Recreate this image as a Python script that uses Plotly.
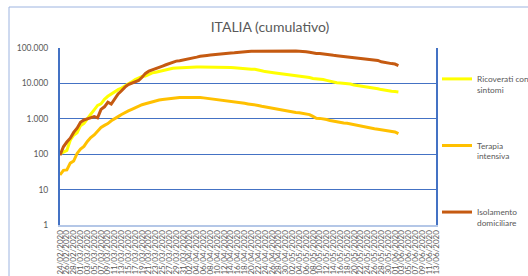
import plotly.graph_objects as go
import datetime as dt

# ---- data ----
start = dt.date(2020, 2, 24)
dates = [(start + dt.timedelta(days=i)).strftime("%d/%m/%Y") for i in range(111)]

ricoverati = [101, 114, 128, 248, 345, 401, 639, 742, 1034, 1346, 1790, 2394, 2651, 3557, 4316, 5038,
              5838, 6650, 7426, 8372, 9663, 11025, 12894, 14363, 15757, 16020, 17708, 19846, 20692, 21937,
              23112, 24753, 26029, 26676, 27386, 27795, 28192, 28403, 28540, 28741, 29010, 28949, 28976,
              28718, 28485, 28399, 28242, 28144, 27847, 28023, 28011, 27643, 26893, 26914, 26384, 25786,
              25033, 24906, 24134, 22871, 21533, 21372, 20353, 19723, 19210, 18149, 17569, 17357, 17242,
              16823, 16270, 15769, 15174, 14636, 13834, 13618, 13539, 12865, 12184, 11453, 10792, 10400,
              10311, 10207, 9991, 9624, 8957, 8695, 8613, 8185, 7917, 7729, 7379, 7094, 6680, 6387, 6099,
              6021, 5916, 5742]
terapia = [26, 35, 36, 56, 64, 105, 140, 166, 229, 295, 351, 462, 567, 650, 733, 877, 1028, 1153, 1328,
           1518, 1672, 1851, 2060, 2257, 2498, 2655, 2857, 3009, 3204, 3396, 3489, 3612, 3732, 3856, 3906,
           3981, 4023, 4035, 4053, 4068, 3994, 3977, 3898, 3792, 3693, 3605, 3497, 3381, 3343, 3260, 3186,
           3079, 2936, 2812, 2733, 2635, 2573, 2471, 2384, 2267, 2173, 2102, 2009, 1956, 1863, 1795, 1694,
           1578, 1539, 1501, 1479, 1427, 1333, 1311, 1168, 1034, 1027, 999, 952, 893, 855, 808, 775, 762,
           749, 716, 676, 640, 595, 572, 553, 541, 521, 505, 489, 475, 450, 435, 424, 380]
isolamento = [94, 162, 221, 284, 412, 543, 798, 927, 1000, 1065, 1155, 1060, 1843, 2180, 2936, 2599,
              3724, 5036, 6201, 7860, 9268, 10197, 11108, 12090, 14935, 19185, 22116, 23783, 26522, 28697,
              30920, 33648, 36653, 39533, 42588, 43752, 45420, 48134, 50456, 52579, 55270, 58320, 58705,
              61557, 63084, 64873, 66534, 68744, 69897, 71063, 72333, 73094, 75528, 76778, 78364, 79502,
              80589, 80758, 81104, 82722, 83652, 82212, 83504, 83619, 82722, 81708, 82286, 81436, 81510,
              81808, 80770, 81131, 78249, 75646, 72157, 70187, 69974, 68679, 66553, 64953, 61995, 60470,
              59001, 58320, 56594, 55300, 52942, 51051, 50966, 49770, 47428, 47428, 45488, 44573, 40657,
              38598, 37157, 36236, 35262, 32000]

series_names = ["Ricoverati con<br>sintomi", "Terapia<br>intensiva", "Isolamento<br>domiciliare"]
series_values = [ricoverati, terapia, isolamento]
series_colors = ["#FFFF00", "#FFC000", "#C55A11"]

ytick_vals = [1, 10, 100, 1000, 10000, 100000]
ytick_text = ["1", "10", "100", "1.000", "10.000", "100.000"]

FONT = "Lato"
GREY = "#595959"

fig = go.Figure()
for i, (name, vals, col) in enumerate(zip(series_names, series_values, series_colors)):
    fig.add_trace(go.Scatter(
        x=dates[:len(vals)], y=vals, mode="lines", name=name,
        line=dict(color=col, width=3), legendgroup=f"g{i}",
    ))

L, R, T, B = 60, 92, 48, 51
W, H = 528, 276
pw, ph = W - L - R, H - T - B

fig.update_layout(
    width=W, height=H,
    margin=dict(l=L, r=R, t=T, b=B, autoexpand=False),
    paper_bgcolor="white", plot_bgcolor="white",
    font=dict(family=FONT, color=GREY),
    title=dict(text="ITALIA (cumulativo)", x=270 / W, xref="container", xanchor="center",
               y=1 - 27 / H, yref="container", yanchor="middle",
               font=dict(size=14, color=GREY, family=FONT)),
    showlegend=True,
    legend=dict(x=(437 - L) / pw, y=1 - (67 - T) / ph, xanchor="left", yanchor="top",
                font=dict(size=8.3, color=GREY, family=FONT), tracegroupgap=42,
                itemwidth=30, valign="top", bgcolor="rgba(0,0,0,0)", itemclick=False),
    xaxis=dict(type="category", categoryorder="array", categoryarray=dates,
               range=[0, len(dates) - 1], tickmode="array", tickvals=dates[::2], ticktext=dates[::2],
               tickangle=-90, tickfont=dict(size=8, color=GREY), showgrid=False, automargin=False,
               showline=True, linecolor="#B4C7E7", linewidth=2, ticks="", zeroline=False),
    yaxis=dict(type="log", range=[0, 5], tickmode="array", tickvals=ytick_vals, ticktext=ytick_text,
               tickfont=dict(size=8.5, color=GREY), showgrid=True, gridcolor="#4472C4", gridwidth=1,
               showline=True, linecolor="#4472C4", linewidth=2, mirror=True, ticks="", automargin=False,
               ticklabelstandoff=8, zeroline=False),
    shapes=[dict(type="rect", xref="paper", yref="paper",
                 x0=(9 - L) / pw, x1=(W + 5 - L) / pw,
                 y0=-(H + 5 - (T + ph)) / ph, y1=1 + (T - 7) / ph,
                 line=dict(color="#9DB4E0", width=1), layer="below")],
)

fig.write_html("out.html", config={"displayModeBar": False},
               post_script="document.body.style.margin='0';document.body.style.overflow='hidden';")
